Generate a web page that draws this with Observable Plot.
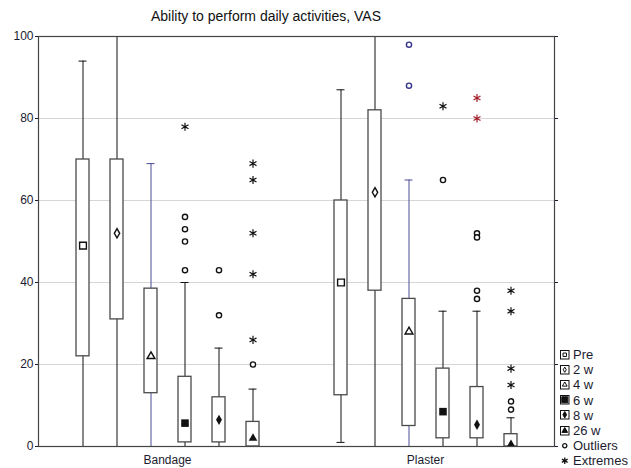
<!DOCTYPE html>
<html>
<head>
<meta charset="utf-8">
<script src="https://cdn.jsdelivr.net/npm/d3@7"></script>
<script src="https://cdn.jsdelivr.net/npm/@observablehq/plot@0.6"></script>
<style>
  html, body { margin: 0; padding: 0; background: #fff; }
  #wrap { position: relative; width: 631px; height: 468px; font-family: "Liberation Sans", Arial, sans-serif; }
  #title { position: absolute; left: 0; width: 532px; top: 8px; text-align: center; font-size: 14px; color: #111; line-height: 16px; }
  #legend { position: absolute; left: 560px; top: 347px; font-size: 13px; color: #1c1c30; }
  #legend .row { display: flex; align-items: center; height: 15.2px; }
  #legend svg { margin-right: 3px; flex: none; }
  #chart svg { display: block; }
</style>
</head>
<body>
<div id="wrap">
  <div id="chart"></div>
  <div id="title">Ability to perform daily activities, VAS</div>
  <div id="legend"></div>
</div>
<script>
// ---- data ----
const groups = ["Bandage", "Plaster"];
const times = ["Pre", "2 w", "4 w", "6 w", "8 w", "26 w"];
const yTicks = [0, 20, 40, 60, 80, 100];
const gridTicks = [20, 40, 60, 80];

const bandageMedian = [49, 52, 22, 5.7, 6.5, 2];
const bandageQ1     = [22, 31, 13, 1, 1, 0];
const bandageQ3     = [70, 70, 38.5, 17, 12, 6];
const bandageMin    = [0, 0, 0, 0, 0, 0];
const bandageMax    = [94, 100, 69, 40, 24, 14];

const plasterMedian = [40, 62, 28, 8.5, 5.3, 0.5];
const plasterQ1     = [12.5, 38, 5, 2, 2, 0];
const plasterQ3     = [60, 82, 36, 19, 14.5, 3];
const plasterMin    = [1, 0, 0, 0, 0, 0];
const plasterMax    = [87, 100, 65, 33, 33, 7];

const bandageOutliers = [["6 w", 56], ["6 w", 53], ["6 w", 50], ["6 w", 43], ["8 w", 43], ["8 w", 32], ["26 w", 20]];
const bandageExtremes = [["6 w", 78], ["26 w", 69], ["26 w", 65], ["26 w", 52], ["26 w", 42], ["26 w", 26]];
const plasterOutliers = [["4 w", 98], ["4 w", 88], ["6 w", 65], ["8 w", 52], ["8 w", 51], ["8 w", 38], ["8 w", 36], ["26 w", 11], ["26 w", 9]];
const plasterExtremes = [["6 w", 83], ["8 w", 85], ["8 w", 80], ["26 w", 38], ["26 w", 33], ["26 w", 19], ["26 w", 15]];

// ---- tables built from the arrays ----
const boxes = [];
times.forEach((t, i) => {
  boxes.push({group: "Bandage", time: t, median: bandageMedian[i], q1: bandageQ1[i], q3: bandageQ3[i], min: bandageMin[i], max: bandageMax[i]});
});
times.forEach((t, i) => {
  boxes.push({group: "Plaster", time: t, median: plasterMedian[i], q1: plasterQ1[i], q3: plasterQ3[i], min: plasterMin[i], max: plasterMax[i]});
});
const outliers = [
  ...bandageOutliers.map(([time, value]) => ({group: "Bandage", time, value})),
  ...plasterOutliers.map(([time, value]) => ({group: "Plaster", time, value}))
];
const extremes = [
  ...bandageExtremes.map(([time, value]) => ({group: "Bandage", time, value})),
  ...plasterExtremes.map(([time, value]) => ({group: "Plaster", time, value}))
];

// ---- styles ----
const symbolOf = {"Pre": "square", "2 w": "diamond", "4 w": "triangle", "6 w": "square", "8 w": "diamond", "26 w": "triangle"};
const openTimes = ["Pre", "2 w", "4 w"];
const sizeOf = {"Pre": 3.3, "2 w": 1.8, "4 w": 1.9, "6 w": 4.1, "8 w": 2.2, "26 w": 2.3};
const whiskerColor = d => d.time === "4 w" ? "#4c4c98" : "#111";
const outlierColor = d => (d.group === "Plaster" && d.time === "4 w") ? "#33338a" : "#111";
const extremeColor = d => (d.group === "Plaster" && d.time === "8 w") ? "#a3202c" : "#111";

const chart = Plot.plot({
  width: 631,
  height: 468,
  marginTop: 36,
  marginBottom: 22,
  marginLeft: 38,
  marginRight: 77,
  style: {fontFamily: "Liberation Sans, Arial, sans-serif", fontSize: "12px", color: "#1c1c30", background: "white"},
  fx: {domain: groups, padding: 0, label: null},
  x: {type: "band", domain: times, paddingInner: 0.62, paddingOuter: 1.06, axis: null},
  y: {domain: [0, 100], label: null},
  marks: [
    Plot.ruleY(gridTicks, {stroke: "#d6d6d6", strokeWidth: 1}),
    Plot.ruleX(boxes, {fx: "group", x: "time", y1: "min", y2: "max", stroke: whiskerColor, strokeWidth: 1}),
    Plot.tickY(boxes, {fx: "group", x: "time", y: "max", stroke: whiskerColor, strokeWidth: 1, insetLeft: 2.5, insetRight: 2.5}),
    Plot.tickY(boxes, {fx: "group", x: "time", y: "min", stroke: whiskerColor, strokeWidth: 1, insetLeft: 2.5, insetRight: 2.5}),
    Plot.barY(boxes, {fx: "group", x: "time", y1: "q1", y2: "q3", fill: "white", stroke: "#4a4a4a", strokeWidth: 1.3}),
    Plot.dot(boxes.filter(d => openTimes.includes(d.time)), {
      fx: "group", x: "time", y: "median", symbol: d => symbolOf[d.time], r: d => sizeOf[d.time],
      fill: "white", stroke: "#111", strokeWidth: 1.4
    }),
    Plot.dot(boxes.filter(d => !openTimes.includes(d.time)), {
      fx: "group", x: "time", y: "median", symbol: d => symbolOf[d.time], r: d => sizeOf[d.time],
      fill: "#111", stroke: "none"
    }),
    Plot.dot(outliers, {fx: "group", x: "time", y: "value", symbol: "circle", r: 2.6, fill: "white", stroke: outlierColor, strokeWidth: 1.4}),
    Plot.dot(extremes, {fx: "group", x: "time", y: "value", symbol: "asterisk", r: 3.8, stroke: extremeColor, strokeWidth: 1.2}),
    Plot.axisY({ticks: yTicks, tickSize: 3, tickPadding: 2, label: null, fontSize: 12}),
    Plot.axisY({anchor: "right", ticks: yTicks, tickSize: 3, tickFormat: () => "", label: null}),
    Plot.axisFx({anchor: "bottom", tickSize: 0, tickPadding: 9, label: null, fontSize: 12}),
    Plot.frame({facet: "super", stroke: "#444", strokeWidth: 1.2})
  ]
});
document.getElementById("chart").appendChild(chart);

// ---- legend ----
const legendItems = [
  {label: "Pre", symbol: d3.symbolSquare, size: 12, fill: "white", box: true},
  {label: "2 w", symbol: d3.symbolDiamond, size: 8, fill: "white", box: true},
  {label: "4 w", symbol: d3.symbolTriangle, size: 10, fill: "white", box: true},
  {label: "6 w", symbol: d3.symbolSquare, size: 36, fill: "#111", box: true},
  {label: "8 w", symbol: d3.symbolDiamond, size: 12, fill: "#111", box: true},
  {label: "26 w", symbol: d3.symbolTriangle, size: 14, fill: "#111", box: true},
  {label: "Outliers", symbol: d3.symbolCircle, size: 14, fill: "white", box: false},
  {label: "Extremes", symbol: d3.symbolAsterisk, size: 30, fill: "none", box: false}
];
const legend = d3.select("#legend");
legendItems.forEach(item => {
  const row = legend.append("div").attr("class", "row");
  const svg = row.append("svg").attr("width", 10).attr("height", 10);
  if (item.box) {
    svg.append("rect").attr("x", 0.5).attr("y", 0.5).attr("width", 8.5).attr("height", 8.5)
      .attr("fill", "white").attr("stroke", "#111").attr("stroke-width", 1);
  }
  svg.append("path").attr("transform", "translate(4.75,4.75)")
    .attr("d", d3.symbol(item.symbol, item.size)())
    .attr("fill", item.fill).attr("stroke", "#111").attr("stroke-width", item.box ? 1 : 1.3);
  row.append("span").text(item.label);
});
</script>
</body>
</html>
